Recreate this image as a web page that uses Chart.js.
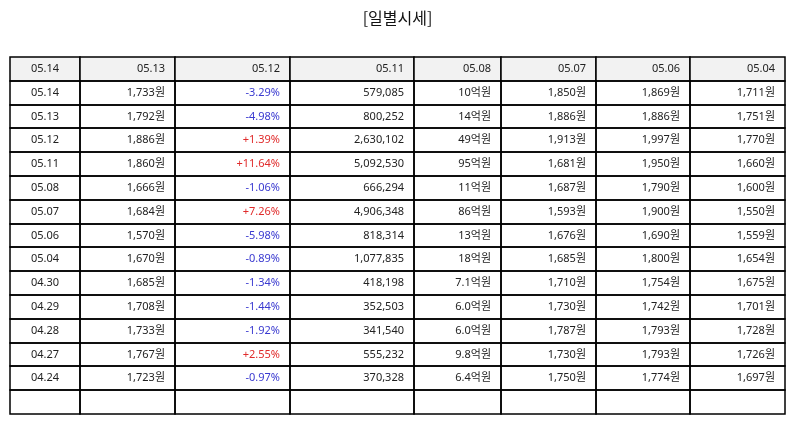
<!DOCTYPE html>
<html>
<head>
<meta charset="utf-8">
<script src="https://cdn.jsdelivr.net/npm/chart.js@4"></script>
<style>
  html, body { margin: 0; padding: 0; background: #fff; }
  #wrap { width: 795px; height: 425px; }
</style>
</head>
<body>
<div id="wrap"><canvas id="tableChart"></canvas></div>
<script>
// Table data
const headerLabels = ["05.14", "05.13", "05.12", "05.11", "05.08", "05.07", "05.06", "05.04"];
const dates   = ["05.14", "05.13", "05.12", "05.11", "05.08", "05.07", "05.06", "05.04", "04.30", "04.29", "04.28", "04.27", "04.24"];
const closes  = [1733, 1792, 1886, 1860, 1666, 1684, 1570, 1670, 1685, 1708, 1733, 1767, 1723];
const changes = [-3.29, -4.98, 1.39, 11.64, -1.06, 7.26, -5.98, -0.89, -1.34, -1.44, -1.92, 2.55, -0.97];
const volumes = [579085, 800252, 2630102, 5092530, 666294, 4906348, 818314, 1077835, 418198, 352503, 341540, 555232, 370328];
const amounts = ["10", "14", "49", "95", "11", "86", "13", "18", "7.1", "6.0", "6.0", "9.8", "6.4"];
const opens   = [1850, 1886, 1913, 1681, 1687, 1593, 1676, 1685, 1710, 1730, 1787, 1730, 1750];
const highs   = [1869, 1886, 1997, 1950, 1790, 1900, 1690, 1800, 1754, 1742, 1793, 1793, 1774];
const lows    = [1711, 1751, 1770, 1660, 1600, 1550, 1559, 1654, 1675, 1701, 1728, 1726, 1697];

// layout (column widths in px, the x scale spans their sum)
const COL_W = [70, 95, 115, 124, 87, 95, 94, 95];
const colEdges = COL_W.reduce((a, w) => { a.push(a[a.length - 1] + w); return a; }, [0]);
const ROWS = dates.length + 2; // header + data + empty row

const won = v => v.toLocaleString("en-US") + "원";
const pct = v => (v > 0 ? "+" : "") + v.toFixed(2) + "%";

// build cell list
const cells = [];
headerLabels.forEach((h, c) => cells.push({ r: 0, c, text: h, header: true }));
dates.forEach((d, i) => {
  const row = [d, won(closes[i]), pct(changes[i]), volumes[i].toLocaleString("en-US"),
               amounts[i] + "억원", won(opens[i]), won(highs[i]), won(lows[i])];
  row.forEach((t, c) => {
    let color = "#222";
    if (c === 2) color = changes[i] > 0 ? "#e02b2b" : "#3a3ad0";
    cells.push({ r: i + 1, c, text: t, color });
  });
});
COL_W.forEach((w, c) => cells.push({ r: ROWS - 1, c, text: "" }));

const FONT = '"Noto Sans", "Noto Sans CJK KR", sans-serif';

const tablePlugin = {
  id: "tablePlugin",
  beforeDatasetsDraw(chart) {
    const { ctx, scales: { x, y } } = chart;
    ctx.save();
    ctx.lineWidth = 1.5;
    ctx.strokeStyle = "#000";
    cells.forEach(cell => {
      const x0 = Math.round(x.getPixelForValue(colEdges[cell.c]));
      const x1 = Math.round(x.getPixelForValue(colEdges[cell.c + 1]));
      const y0 = Math.round(y.getPixelForValue(cell.r));
      const y1 = Math.round(y.getPixelForValue(cell.r + 1));
      if (cell.header) {
        ctx.fillStyle = "#f2f2f2";
        ctx.fillRect(x0, y0, x1 - x0, y1 - y0);
      }
      ctx.strokeRect(x0, y0, x1 - x0, y1 - y0);
    });
    ctx.restore();
  },
  afterDatasetsDraw(chart) {
    const { ctx, scales: { x, y } } = chart;
    ctx.save();
    ctx.font = "11px " + FONT;
    ctx.textBaseline = "middle";
    cells.forEach(cell => {
      if (!cell.text) return;
      const yc = y.getPixelForValue(cell.r + 0.5);
      ctx.fillStyle = cell.color || "#222";
      if (cell.c === 0) {
        ctx.textAlign = "center";
        ctx.fillText(cell.text, x.getPixelForValue((colEdges[0] + colEdges[1]) / 2), yc);
      } else {
        ctx.textAlign = "right";
        ctx.fillText(cell.text, x.getPixelForValue(colEdges[cell.c + 1]) - 10, yc);
      }
    });
    ctx.restore();
  }
};

new Chart(document.getElementById("tableChart"), {
  type: "scatter",
  data: {
    datasets: [{
      data: cells.map(c => ({ x: (colEdges[c.c] + colEdges[c.c + 1]) / 2, y: c.r + 0.5 })),
      pointRadius: 0
    }]
  },
  options: {
    responsive: true,
    maintainAspectRatio: false,
    animation: false,
    layout: { padding: { left: 10, right: 10, top: 0, bottom: 11 } },
    scales: {
      x: { type: "linear", min: 0, max: colEdges[colEdges.length - 1], display: false },
      y: { type: "linear", min: 0, max: ROWS, reverse: true, display: false }
    },
    plugins: {
      legend: { display: false },
      tooltip: { enabled: false },
      title: {
        display: true,
        text: "[일별시세]",
        color: "#111",
        font: { family: '"Noto Sans CJK KR", sans-serif', size: 16, weight: "normal" },
        padding: { top: 8, bottom: 29.8 }
      }
    }
  },
  plugins: [tablePlugin]
});
</script>
</body>
</html>
